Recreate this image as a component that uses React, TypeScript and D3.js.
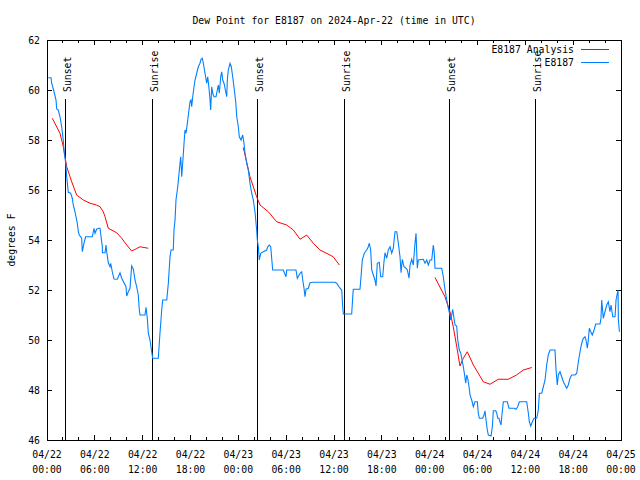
import React from "react";
import * as d3 from "d3";

// hours since 2024-04-22 00:00 UTC, value in degrees F
const analysisSeg1: [number, number][] = [
  [0.66, 58.87], [1.1, 58.6], [1.63, 58.27], [2.05, 57.73], [2.26, 57.33], [2.47, 56.93],
  [3.1, 56.33], [3.72, 55.8], [4.56, 55.6], [5.4, 55.47], [6.2, 55.4], [6.65, 55.33],
  [7.06, 55.13], [7.28, 54.93], [7.69, 54.47], [8.74, 54.29], [9.37, 54.07], [10.0, 53.8],
  [10.62, 53.56], [11.2, 53.65], [11.67, 53.73], [12.7, 53.67],
];
const analysisSeg2: [number, number][] = [
  [24.6, 57.7], [24.75, 57.53], [25.46, 56.53], [26.3, 55.73], [26.72, 55.4], [27.76, 55.13],
  [28.81, 54.73], [30.07, 54.6], [30.9, 54.4], [31.74, 54.03], [32.58, 54.2], [33.4, 53.87],
  [34.24, 53.6], [35.5, 53.4], [35.9, 53.33], [36.67, 53.0],
];
const analysisSeg3: [number, number][] = [
  [48.67, 52.5], [49.92, 51.73], [50.55, 51.13], [50.96, 50.53], [51.4, 49.73], [51.8, 48.96],
  [52.22, 49.27], [52.72, 49.53], [53.48, 49.0], [54.73, 48.33], [55.57, 48.23], [56.6, 48.43],
  [57.86, 48.43], [58.9, 48.6], [59.75, 48.8], [60.8, 48.9],
];
const observed: [number, number][] = [
  [0.16, 60.49], [0.5, 60.49], [0.59, 60.27], [0.88, 59.93], [1.13, 59.6], [1.22, 59.24], [1.42, 59.2],
  [1.63, 58.93], [1.84, 58.53], [2.04, 58.0], [2.17, 57.47], [2.35, 57.07], [2.47, 56.53], [2.67, 55.91],
  [2.97, 55.87], [3.17, 55.67], [3.3, 55.4], [3.51, 55.13], [3.64, 54.93], [3.8, 54.67], [3.93, 54.33],
  [4.05, 54.2], [4.35, 54.07], [4.43, 53.53], [4.68, 53.93], [4.85, 54.13], [5.68, 54.13], [5.9, 54.47],
  [6.02, 54.27], [6.23, 54.43], [6.44, 54.47], [6.65, 54.47], [6.77, 54.16], [6.94, 53.73], [6.95, 53.49],
  [7.28, 53.49], [7.4, 53.8], [7.49, 53.53], [7.69, 53.09], [7.9, 52.93], [7.99, 53.07], [8.19, 52.73],
  [8.4, 52.44], [8.82, 52.43], [9.16, 52.69], [9.37, 52.47], [9.91, 52.13], [10.0, 51.76], [10.2, 51.93],
  [10.41, 52.07], [10.62, 52.96], [10.83, 52.83], [11.04, 52.4], [11.25, 52.13], [11.45, 51.8],
  [11.58, 51.2], [11.67, 51.0], [12.29, 51.0], [12.42, 51.31], [12.58, 50.87], [12.71, 50.27],
  [12.92, 50.0], [13.13, 49.53], [13.26, 49.27], [13.96, 49.27], [14.17, 50.27], [14.39, 51.2],
  [14.51, 51.6], [15.02, 51.6], [15.22, 52.27], [15.43, 53.33], [15.56, 53.6], [15.84, 53.6],
  [15.93, 54.4], [16.06, 54.8], [16.18, 55.6], [16.4, 56.13], [16.6, 56.8], [16.77, 57.33],
  [16.9, 56.53], [17.02, 57.07], [17.19, 57.87], [17.31, 58.4], [17.44, 58.27], [17.6, 58.67],
  [17.81, 59.2], [17.94, 59.53], [18.06, 59.6], [18.15, 59.33], [18.28, 59.73], [18.44, 60.13],
  [18.57, 60.4], [18.78, 60.67], [18.98, 60.93], [19.19, 61.07], [19.32, 61.23], [19.48, 61.27],
  [19.61, 61.07], [19.82, 60.67], [20.03, 60.27], [20.16, 60.53], [20.32, 60.07], [20.45, 59.6],
  [20.53, 59.2], [20.66, 60.13], [20.79, 59.87], [20.95, 59.73], [21.2, 59.73], [21.36, 60.0],
  [21.49, 60.2], [21.61, 59.87], [21.79, 60.53], [21.92, 60.73], [22.04, 60.4], [22.2, 60.27],
  [22.33, 60.07], [22.54, 59.73], [22.62, 60.4], [22.74, 60.8], [22.96, 61.07], [23.12, 60.93],
  [23.29, 60.53], [23.5, 60.0], [23.67, 59.53], [23.8, 58.93], [24.0, 58.53], [24.12, 58.13],
  [24.34, 58.0], [24.55, 58.2], [24.71, 57.87], [24.84, 57.47], [25.05, 57.07], [25.25, 56.8],
  [25.46, 56.27], [25.68, 55.87], [25.88, 55.6], [26.09, 55.13], [26.22, 54.67], [26.3, 54.4],
  [26.38, 54.0], [26.51, 53.73], [26.63, 53.2], [26.81, 53.47], [27.13, 53.53], [27.56, 53.6],
  [27.68, 53.73], [27.89, 53.8], [28.06, 53.73], [28.31, 52.8], [29.64, 52.8], [29.98, 52.53],
  [30.07, 52.8], [31.23, 52.8], [31.4, 52.47], [31.74, 52.67], [31.95, 52.73], [32.08, 52.4],
  [32.24, 52.07], [32.36, 51.73], [32.49, 52.03], [32.78, 52.07], [32.99, 52.29], [33.41, 52.31],
  [36.13, 52.31], [36.34, 52.27], [36.75, 52.07], [36.97, 52.0], [37.09, 51.33], [37.17, 51.04],
  [38.22, 51.04], [38.35, 51.73], [38.42, 52.03], [39.26, 52.03], [39.39, 52.53], [39.55, 53.2],
  [39.8, 53.47], [40.1, 53.6], [40.3, 53.73], [40.43, 53.87], [40.6, 53.6], [40.73, 52.8],
  [40.93, 52.6], [41.14, 52.4], [41.27, 52.16], [41.43, 53.07], [41.68, 53.11], [41.86, 52.53],
  [42.11, 52.53], [42.27, 53.13], [42.4, 53.49], [42.61, 53.27], [42.81, 53.6], [43.03, 53.73],
  [43.24, 53.47], [43.44, 53.67], [43.65, 54.33], [43.87, 54.33], [44.07, 53.87], [44.28, 53.33],
  [44.41, 52.69], [44.57, 53.23], [44.78, 52.93], [45.03, 52.87], [45.2, 52.8], [45.41, 52.47],
  [45.54, 53.0], [45.75, 53.23], [45.95, 53.0], [46.16, 53.87], [46.29, 54.27], [46.45, 52.87],
  [46.58, 53.2], [47.2, 53.23], [47.42, 53.07], [47.63, 53.2], [47.83, 53.0], [48.04, 53.2],
  [48.26, 53.2], [48.46, 53.8], [48.58, 53.47], [48.67, 52.87], [49.51, 52.87], [49.71, 52.53],
  [49.93, 52.0], [50.14, 51.6], [50.34, 51.27], [50.55, 51.0], [50.64, 50.8], [50.77, 51.0],
  [50.89, 51.23], [51.05, 50.87], [51.18, 50.6], [51.39, 50.56], [51.52, 50.0], [51.72, 49.6],
  [51.9, 49.47], [52.02, 49.27], [52.22, 48.93], [52.35, 48.67], [52.52, 48.27], [52.65, 48.6],
  [52.77, 48.47], [52.94, 48.13], [53.06, 47.8], [53.27, 47.6], [53.48, 47.33], [53.69, 47.53],
  [53.98, 47.53], [54.1, 47.07], [54.23, 46.87], [54.65, 46.87], [54.82, 47.0], [54.94, 47.17],
  [55.07, 46.8], [55.23, 46.4], [55.36, 46.2], [55.7, 46.16], [55.86, 46.53], [55.99, 47.17],
  [56.29, 47.17], [56.41, 47.07], [56.54, 46.87], [56.7, 46.87], [56.82, 46.73], [56.95, 46.6],
  [57.04, 46.93], [57.24, 47.53], [57.74, 47.53], [57.95, 47.27], [58.62, 47.27], [58.83, 47.23],
  [59.04, 47.33], [59.25, 47.53], [60.17, 47.53], [60.38, 47.07], [60.5, 46.73], [60.68, 46.56],
  [60.88, 46.73], [61.09, 46.87], [61.43, 46.87], [61.63, 47.2], [61.76, 47.87], [62.06, 47.87],
  [62.26, 48.13], [62.47, 48.4], [62.68, 49.0], [62.88, 49.4], [63.1, 49.6], [63.72, 49.6],
  [63.85, 48.8], [64.01, 48.2], [64.14, 48.6], [64.35, 48.73], [64.56, 48.53], [64.77, 48.33],
  [64.98, 48.2], [65.19, 48.07], [65.39, 48.2], [65.6, 48.47], [65.82, 48.6], [66.23, 48.6],
  [66.45, 48.67], [66.65, 49.13], [66.86, 49.53], [67.07, 49.87], [67.27, 50.07], [67.49, 50.13],
  [67.61, 50.0], [67.78, 49.67], [67.9, 50.0], [68.03, 50.47], [68.2, 50.33], [68.4, 50.2],
  [68.62, 50.4], [68.83, 50.64], [69.37, 50.64], [69.49, 50.87], [69.58, 51.6], [69.78, 50.87],
  [69.99, 51.13], [70.21, 51.4], [70.41, 51.53], [70.62, 51.13], [70.75, 51.4], [70.96, 50.93],
  [71.25, 50.93], [71.38, 51.6], [71.54, 51.87], [71.63, 52.0], [71.67, 50.8], [71.8, 50.33],
];
const sunsetHours = [2.26, 26.34, 50.43];
const sunriseHours = [13.17, 37.26, 61.21];
const yTickValues = [46, 48, 50, 52, 54, 56, 58, 60, 62];
const xMajorHours = [0, 6, 12, 18, 24, 30, 36, 42, 48, 54, 60, 66, 72];
const xMinorHours = d3.range(0, 73, 2);

const T0 = Date.UTC(2024, 3, 22);
const toDate = (h: number) => new Date(T0 + h * 3600000);

const W = 640, H = 480;
const L = 47, R = 621, T = 40, B = 440;
const FONT = "'DejaVu Sans Mono', 'Liberation Mono', monospace";
const RED = "#ff0000";
const BLUE = "#0080ff";

export default function App() {
  const x = d3.scaleUtc().domain([toDate(0), toDate(72)]).range([L, R]);
  const y = d3.scaleLinear().domain([46, 62]).range([B, T]);
  const line = d3
    .line<[number, number]>()
    .x((d) => x(toDate(d[0])))
    .y((d) => y(d[1]));
  const fmtDay = d3.utcFormat("%m/%d");
  const fmtTime = d3.utcFormat("%H:%M");
  const fs = 9.8;

  return (
    <svg
      width={W}
      height={H}
      style={{ position: "absolute", left: 0, top: 0, background: "#fff" }}
      fontFamily={FONT}
      fontSize={fs}
    >
      <rect x={0} y={0} width={W} height={H} fill="#fff" />
      <text x={(L + R) / 2} y={20} textAnchor="middle" dominantBaseline="central">
        Dew Point for E8187 on 2024-Apr-22 (time in UTC)
      </text>
      <text
        transform={`translate(11,${(T + B) / 2}) rotate(-90)`}
        textAnchor="middle"
        dominantBaseline="central"
      >
        degrees F
      </text>

      {/* y ticks */}
      {yTickValues.map((v) => (
        <g key={"y" + v} shapeRendering="crispEdges">
          <line x1={L} x2={L + 5} y1={y(v)} y2={y(v)} stroke="#000" />
          <line x1={R - 5} x2={R} y1={y(v)} y2={y(v)} stroke="#000" />
          <text x={L - 7} y={y(v)} textAnchor="end" dominantBaseline="central">
            {v}
          </text>
        </g>
      ))}
      {/* x minor ticks */}
      {xMinorHours.map((h) => (
        <g key={"m" + h} shapeRendering="crispEdges">
          <line x1={x(toDate(h))} x2={x(toDate(h))} y1={B} y2={B - 3} stroke="#000" />
          <line x1={x(toDate(h))} x2={x(toDate(h))} y1={T} y2={T + 3} stroke="#000" />
        </g>
      ))}
      {xMajorHours.map((h) => {
        const d = toDate(h);
        const px = x(d);
        return (
          <g key={"M" + h}>
            <line x1={px} x2={px} y1={B} y2={B - 5} stroke="#000" shapeRendering="crispEdges" />
            <line x1={px} x2={px} y1={T} y2={T + 5} stroke="#000" shapeRendering="crispEdges" />
            <text x={px} y={454} textAnchor="middle" dominantBaseline="central">
              {fmtDay(d)}
            </text>
            <text x={px} y={469} textAnchor="middle" dominantBaseline="central">
              {fmtTime(d)}
            </text>
          </g>
        );
      })}

      {/* sun lines */}
      {[...sunsetHours.map((h) => ({ h, label: "Sunset" })), ...sunriseHours.map((h) => ({ h, label: "Sunrise" }))].map(
        ({ h, label }) => {
          const px = Math.round(x(toDate(h))) + 0.5;
          return (
            <g key={label + h}>
              <line x1={px} x2={px} y1={99} y2={B} stroke="#000" strokeWidth={1} shapeRendering="crispEdges" />
              <text
                transform={`translate(${px + 1.5},92) rotate(-90)`}
                textAnchor="start"
                dominantBaseline="central"
              >
                {label}
              </text>
            </g>
          );
        }
      )}

      {/* series */}
      {[analysisSeg1, analysisSeg2, analysisSeg3].map((seg, i) => (
        <path key={"a" + i} d={line(seg) || ""} fill="none" stroke={RED} strokeWidth={1} />
      ))}
      <path d={line(observed) || ""} fill="none" stroke={BLUE} strokeWidth={1.1} />

      {/* legend */}
      <text x={574} y={49.5} textAnchor="end" dominantBaseline="central">
        E8187 Analysis
      </text>
      <line x1={581} x2={609} y1={49.5} y2={49.5} stroke={RED} />
      <text x={574} y={62.5} textAnchor="end" dominantBaseline="central">
        E8187
      </text>
      <line x1={581} x2={609} y1={62.5} y2={62.5} stroke={BLUE} />

      {/* border */}
      <rect x={L} y={T} width={R - L} height={B - T} fill="none" stroke="#000" shapeRendering="crispEdges" />
    </svg>
  );
}
